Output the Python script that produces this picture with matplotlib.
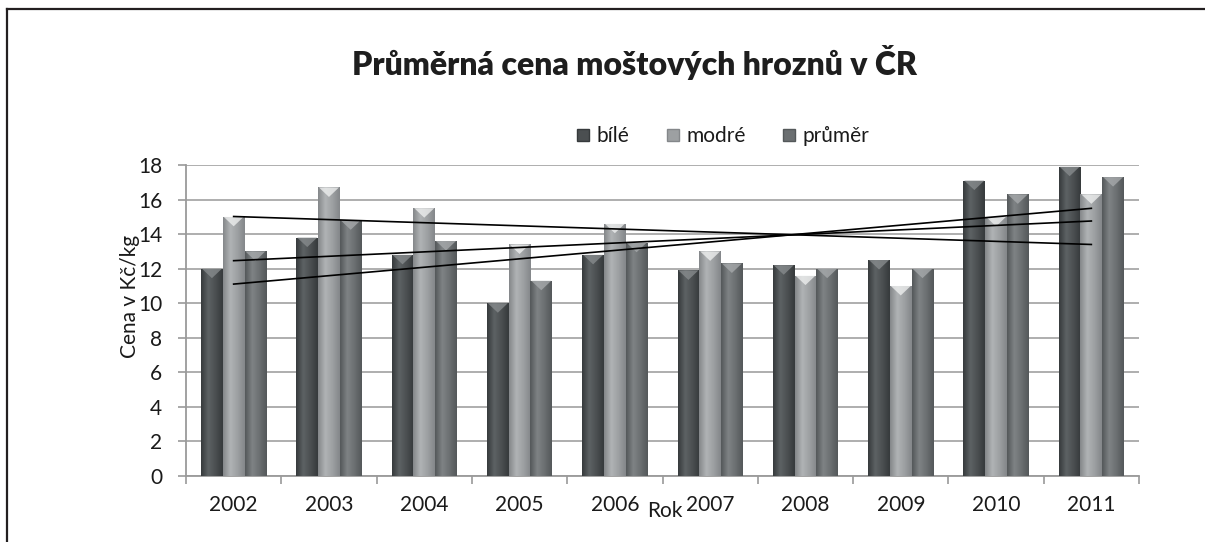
import numpy as np
import matplotlib
matplotlib.use("Agg")
import matplotlib.pyplot as plt
from matplotlib.patches import Polygon
from matplotlib.lines import Line2D
from matplotlib.colors import LinearSegmentedColormap

years = ["2002", "2003", "2004", "2005", "2006", "2007", "2008", "2009", "2010", "2011"]
bile = [12.0, 13.8, 12.8, 10.0, 12.8, 11.9, 12.2, 12.5, 17.1, 17.9]
modre = [15.0, 16.7, 15.5, 13.4, 14.6, 13.0, 11.6, 11.0, 15.0, 16.3]
prumer = [13.0, 14.8, 13.6, 11.3, 13.5, 12.3, 12.0, 12.0, 16.3, 17.3]
series_names = ["bílé", "modré", "průměr"]
yticks = [0, 2, 4, 6, 8, 10, 12, 14, 16, 18]

base_colors = ["#4b4f51", "#9da0a2", "#6b6f71"]
dark_colors = ["#363a3c", "#84878a", "#54585a"]
light_colors = ["#5d6264", "#b0b3b5", "#7f8385"]
cap_colors = ["#8a8e90", "#f2f3f3", "#a9acae"]

FONT = "Lato"
plt.rcParams["font.family"] = [FONT, "DejaVu Sans"]

fig = plt.figure(figsize=(12.05, 5.42), dpi=100)
W, H = 1205, 542
ax = fig.add_axes([186 / W, 1 - 476 / H, (1139 - 186) / W, (476 - 165) / H])

x = np.arange(len(years))
bw = 0.228
data = [bile, modre, prumer]
offsets = [-bw, 0, bw]

ax.set_xlim(-0.5, len(years) - 0.5)
ax.set_ylim(0, 18)

for s, vals in enumerate(data):
    cmap = LinearSegmentedColormap.from_list(
        "g%d" % s, [dark_colors[s], light_colors[s], base_colors[s], dark_colors[s]])
    grad = np.linspace(0, 1, 64).reshape(1, -1)
    bars = ax.bar(x + offsets[s], vals, width=bw, color=base_colors[s],
                  edgecolor="none", zorder=3)
    for b in bars:
        bx, by = b.get_x(), b.get_y()
        bwid, bh = b.get_width(), b.get_height()
        im = ax.imshow(grad, cmap=cmap, aspect="auto",
                       extent=[bx, bx + bwid, by, by + bh], zorder=3.1,
                       interpolation="bicubic")
        im.set_clip_path(b)
        capd = 0.55
        tri = Polygon([[bx + 0.04 * bwid, by + bh], [bx + 0.96 * bwid, by + bh],
                       [bx + bwid / 2, by + bh - capd]], closed=True,
                      facecolor=cap_colors[s], edgecolor="none", alpha=0.75, zorder=3.2)
        ax.add_patch(tri)

# trend lines
for vals in data:
    k, q = np.polyfit(x, vals, 1)
    ax.plot([x[0], x[-1]], [k * x[0] + q, k * x[-1] + q], color="black",
            lw=1.2, zorder=5)

ax.set_xlim(-0.5, len(years) - 0.5)
ax.set_ylim(0, 18)

ax.set_yticks(yticks)
ax.set_yticklabels([str(v) for v in yticks])
ax.yaxis.grid(True, color="#a8a8a8", lw=1.3, zorder=0)
ax.set_axisbelow(True)
ax.set_xticks(x)
ax.set_xticklabels(years)
ax.set_xticks(np.arange(len(years) + 1) - 0.5, minor=True)
ax.tick_params(axis="x", which="major", length=0, pad=14, labelsize=15, labelcolor="#1a1a1a")
ax.tick_params(axis="x", which="minor", length=6, width=1.2, color="#9a9a9a", direction="out")
ax.tick_params(axis="y", which="major", length=6, width=1.2, color="#9a9a9a",
               pad=11, labelsize=15, labelcolor="#1a1a1a")
for sp in ["top", "right"]:
    ax.spines[sp].set_visible(False)
for sp in ["left", "bottom"]:
    ax.spines[sp].set_color("#9a9a9a")
    ax.spines[sp].set_linewidth(1.3)

fig.text(130 / W, 1 - 296 / H, "Cena v Kč/kg", rotation=90, ha="center", va="center",
         fontsize=15, color="#1a1a1a")
fig.text(665 / W, 1 - 511 / H, "Rok", ha="center", va="center", fontsize=15, color="#1a1a1a")

fig.text(635 / W, 1 - 62 / H, "Průměrná cena moštových hroznů v ČR", ha="center",
         va="center", fontsize=23, fontweight="heavy", color="#1e1e1e")

handles = [Line2D([], [], marker="s", linestyle="none", markersize=8,
                  markerfacecolor=base_colors[i], markeredgecolor=dark_colors[i])
           for i in range(3)]
fig.legend(handles, series_names, loc="center", bbox_to_anchor=(722 / W, 1 - 136 / H),
           ncol=3, frameon=False, fontsize=15, handlelength=0.8, handletextpad=0.25,
           columnspacing=1.7, labelcolor="#1a1a1a")

# chart frame (top and left edges)
fig.add_artist(Line2D([7.5 / W, 1.0], [1 - 8.5 / H, 1 - 8.5 / H], color="#231f20",
                      lw=1.6, transform=fig.transFigure))
fig.add_artist(Line2D([7.5 / W, 7.5 / W], [0, 1 - 8.5 / H], color="#231f20",
                      lw=1.6, transform=fig.transFigure))

fig.savefig("out.png", dpi=100)
